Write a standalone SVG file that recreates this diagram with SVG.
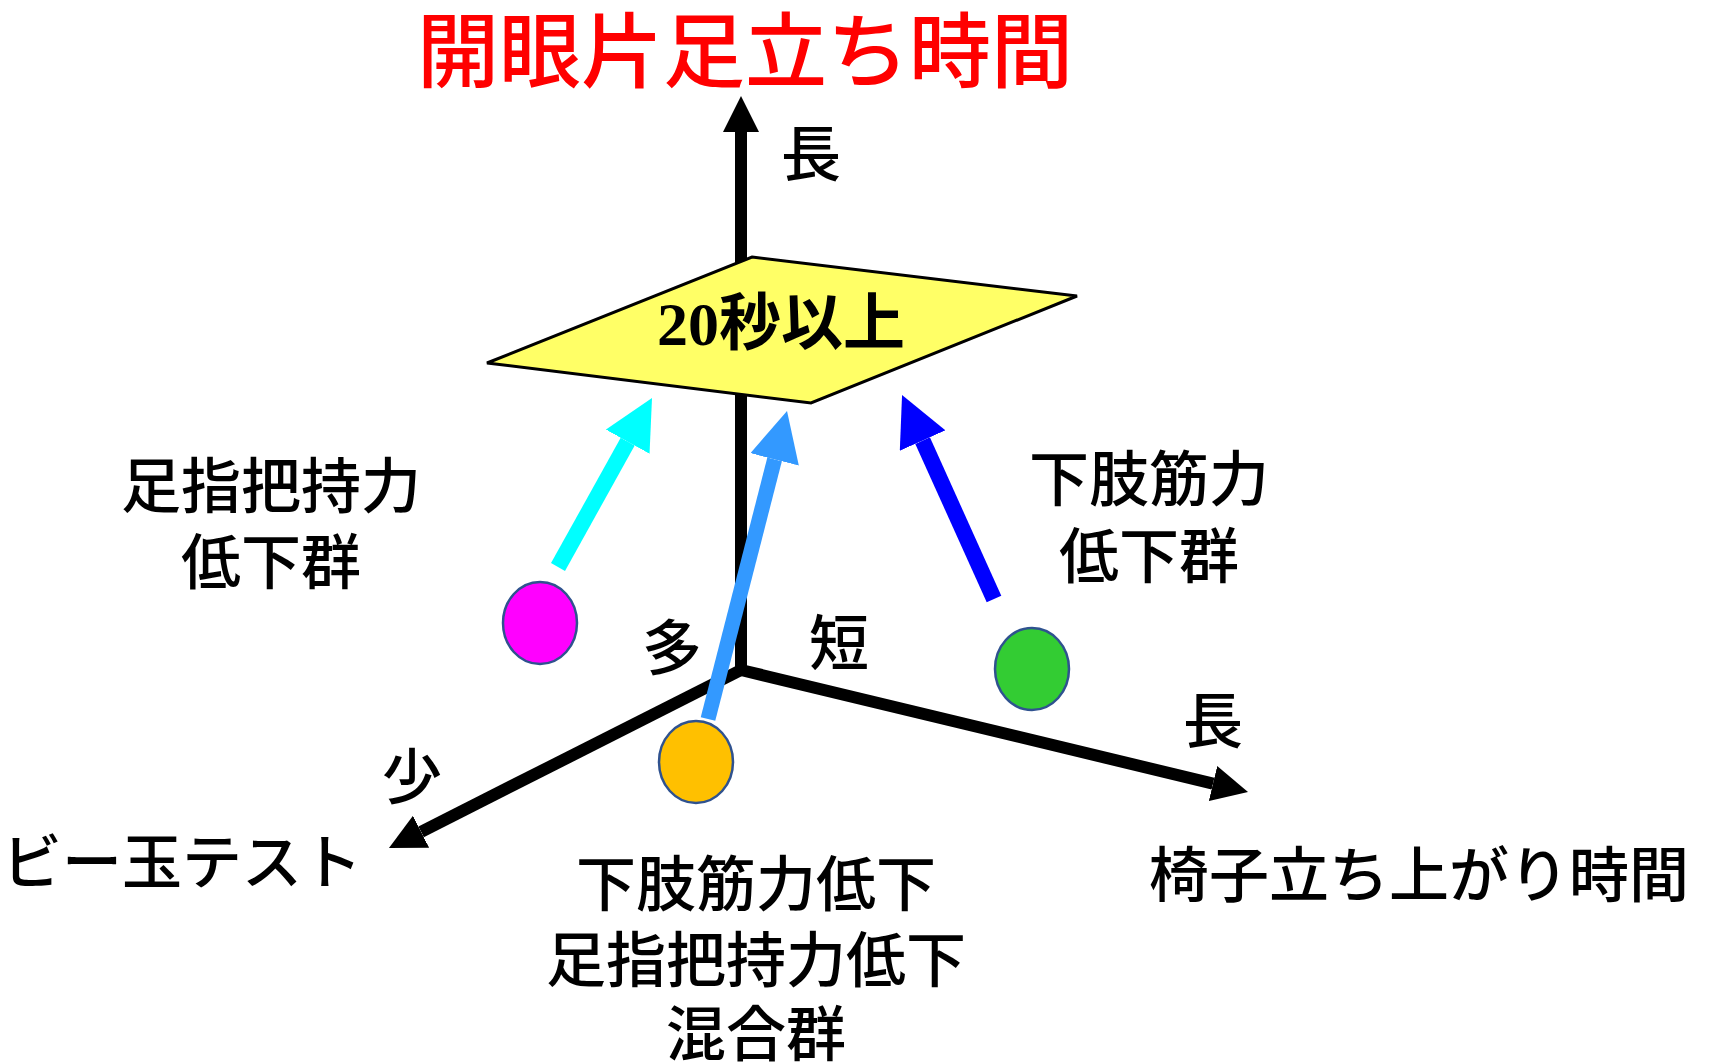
<svg xmlns="http://www.w3.org/2000/svg" width="1709" height="1064" viewBox="0 0 1709 1064">
<style>
.lbl{font-family:"Noto Sans CJK JP","Noto Sans CJK SC",sans-serif;font-size:60px;font-weight:500;fill:#000;text-anchor:middle}
.title{font-family:"Noto Sans CJK JP",sans-serif;font-size:82px;font-weight:500;fill:#FF0000;text-anchor:middle}
.plate{font-family:"Liberation Serif","Noto Sans CJK JP",serif;font-size:62px;font-weight:bold;fill:#000;text-anchor:middle}
.axis{stroke:#000;stroke-width:12;fill:none}
.dot{stroke:#2F528F;stroke-width:2.5}
</style>
<defs>
<marker id="axHead" viewBox="0 0 36 36" markerWidth="36" markerHeight="36" refX="0" refY="18" orient="auto" markerUnits="userSpaceOnUse"><path d="M0,0 L36,18 L0,36 z" fill="#000"/></marker>
<marker id="hCyan" viewBox="0 0 50 50" markerWidth="50" markerHeight="50" refX="0" refY="25" orient="auto" markerUnits="userSpaceOnUse"><path d="M0,0 L50,25 L0,50 z" fill="#00FFFF"/></marker>
<marker id="hLight" viewBox="0 0 50 50" markerWidth="50" markerHeight="50" refX="0" refY="25" orient="auto" markerUnits="userSpaceOnUse"><path d="M0,0 L50,25 L0,50 z" fill="#3399FF"/></marker>
<marker id="hBlue" viewBox="0 0 50 50" markerWidth="50" markerHeight="50" refX="0" refY="25" orient="auto" markerUnits="userSpaceOnUse"><path d="M0,0 L50,25 L0,50 z" fill="#0000FF"/></marker>
</defs>
<rect width="1709" height="1064" fill="#fff"/>
<g id="axes">
<line class="axis" x1="741" y1="674" x2="741" y2="132" marker-end="url(#axHead)"/>
<line class="axis" x1="741" y1="670" x2="421.1" y2="831.8" marker-end="url(#axHead)"/>
<line class="axis" x1="741" y1="670" x2="1213" y2="783.6" marker-end="url(#axHead)"/>
</g>
<g id="title"><text class="title" x="745" y="81">開眼片足立ち時間</text></g>
<g id="plate">
<polygon points="752,257 1077,296 811,403 487,363" fill="#FFFF66" stroke="#000" stroke-width="3"/>
<text class="plate" x="781" y="345">20秒以上</text>
</g>
<g id="dot-toe"><ellipse class="dot" cx="540" cy="623" rx="37" ry="41" fill="#FF00FF"/></g>
<g id="dot-mix"><ellipse class="dot" cx="696" cy="762" rx="37" ry="41" fill="#FFC000"/></g>
<g id="dot-leg"><ellipse class="dot" cx="1032" cy="669" rx="37" ry="41" fill="#33CC33"/></g>
<g id="connectors">
<line x1="558" y1="567" x2="627.7" y2="441.7" stroke="#00FFFF" stroke-width="16" marker-end="url(#hCyan)"/>
<line x1="708" y1="719" x2="774.6" y2="459.4" stroke="#3399FF" stroke-width="15" marker-end="url(#hLight)"/>
<line x1="994" y1="599" x2="922.6" y2="440.6" stroke="#0000FF" stroke-width="16" marker-end="url(#hBlue)"/>
</g>
<g id="axis-labels">
<text class="lbl" x="811" y="176">長</text>
<text class="lbl" x="672" y="670">多</text>
<text class="lbl" x="839" y="665">短</text>
<text class="lbl" x="1213" y="743">長</text>
<text class="lbl" x="412" y="799">少</text>
<text class="lbl" x="182" y="884">ビー玉テスト</text>
<text class="lbl" x="1419" y="897">椅子立ち上がり時間</text>
</g>
<g id="label-toe">
<text class="lbl" x="271" y="508">足指把持力</text>
<text class="lbl" x="271" y="584">低下群</text>
</g>
<g id="label-leg">
<text class="lbl" x="1149" y="501">下肢筋力</text>
<text class="lbl" x="1149" y="578">低下群</text>
</g>
<g id="label-mix">
<text class="lbl" x="756" y="906">下肢筋力低下</text>
<text class="lbl" x="756" y="982">足指把持力低下</text>
<text class="lbl" x="756" y="1056">混合群</text>
</g>
</svg>
